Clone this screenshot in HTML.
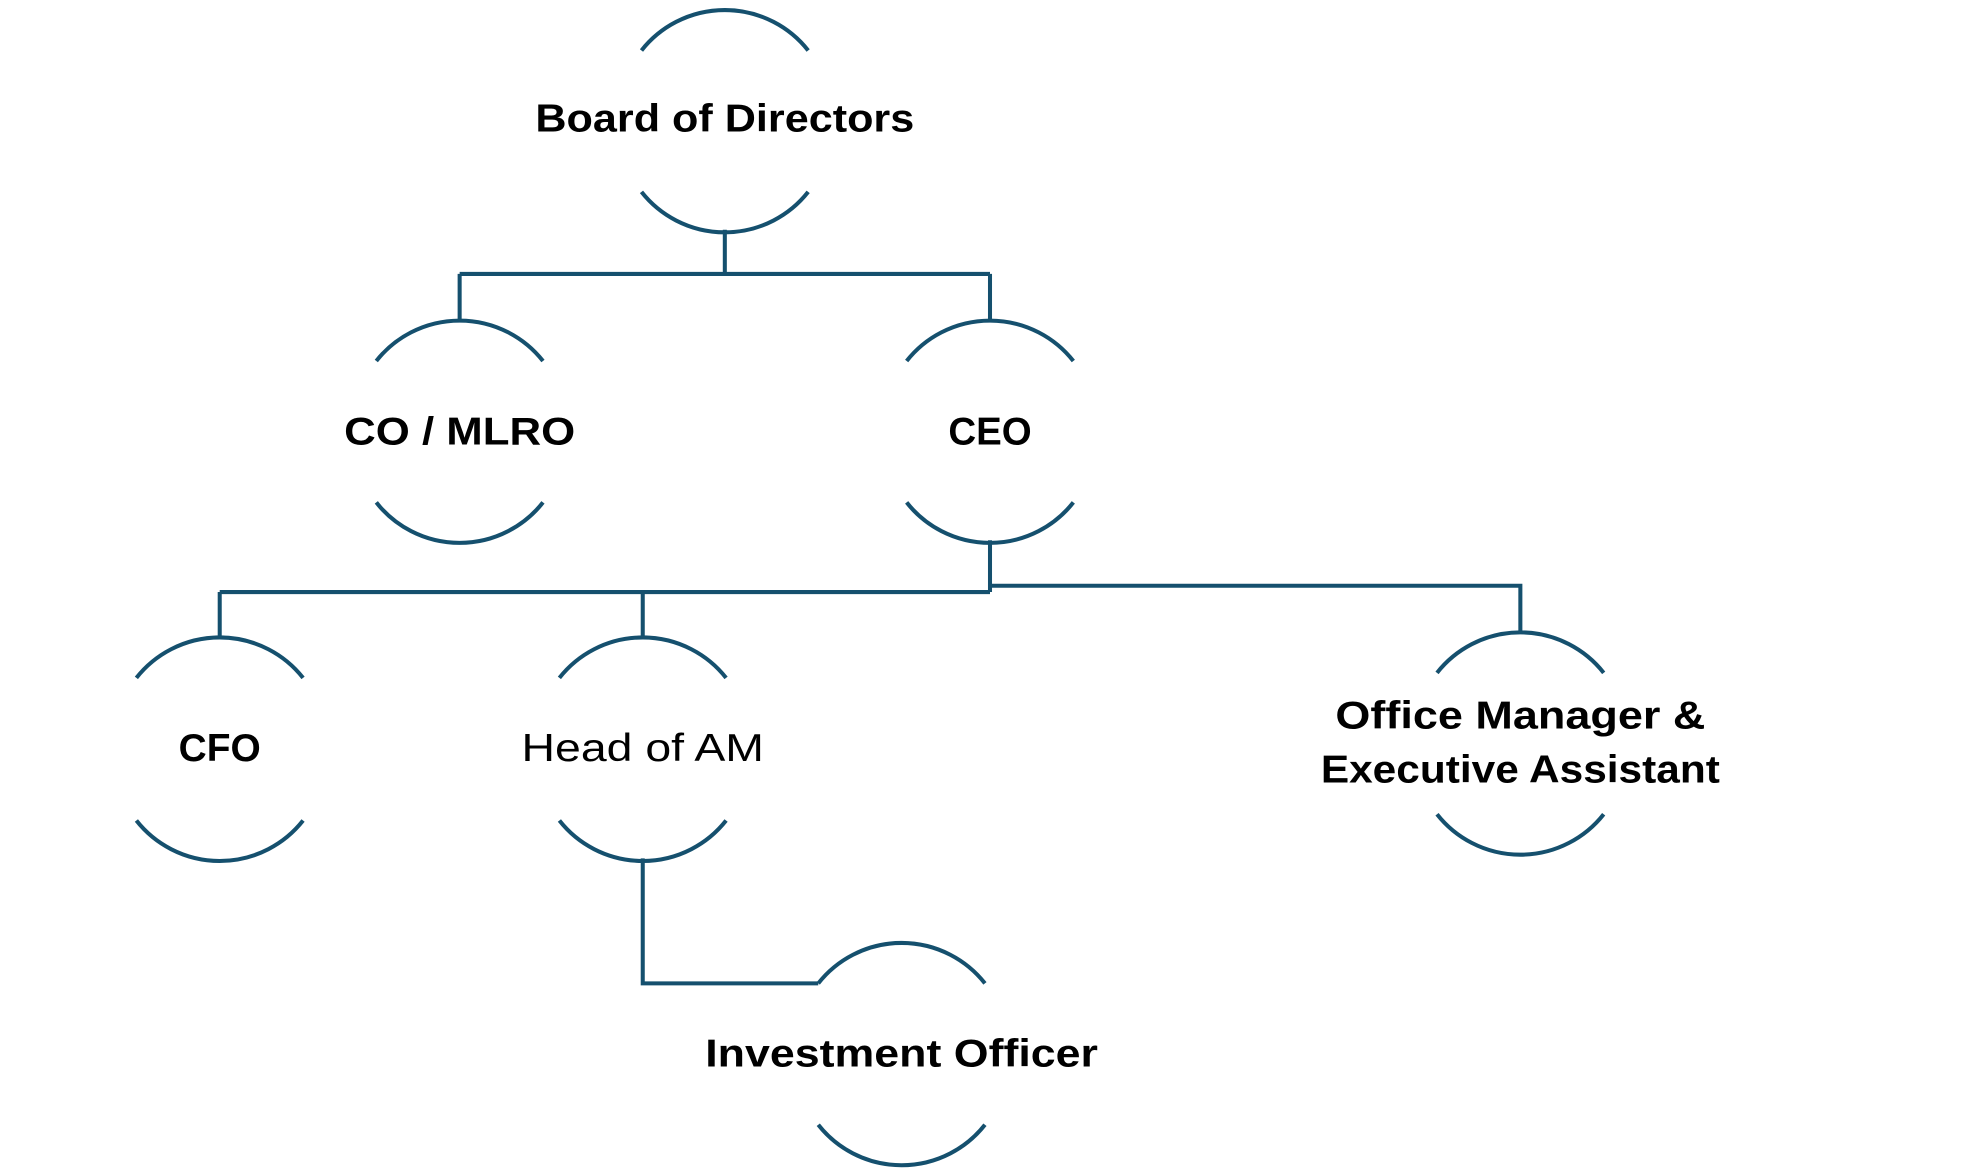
<!DOCTYPE html>
<html><head><meta charset="utf-8"><style>
html,body{margin:0;padding:0;background:#fff;}
svg{display:block;}
text{font-family:"Liberation Sans",sans-serif;font-size:31px;fill:#000;text-anchor:middle;}
.b{font-weight:bold;}
</style></head><body>
<svg width="1980" height="1174" viewBox="0 0 1568 930" preserveAspectRatio="none" xmlns="http://www.w3.org/2000/svg">
<g fill="none" stroke="#15506e" stroke-width="3.2">
<path d="M574 182 V217 M364 217 H784 M364 217 V255 M784 217 V255"/>
<path d="M784 428 V469 M174 469 H784 M174 469 V506 M509 469 V506"/>
<path d="M784 464 H1204 V502"/>
<path d="M509 680 V779 H648"/>
<path d="M508 40 A84 84 0 0 1 640 40 M508 152 A84 84 0 0 0 640 152"/>
<path d="M298 286 A84 84 0 0 1 430 286 M298 398 A84 84 0 0 0 430 398"/>
<path d="M718 286 A84 84 0 0 1 850 286 M718 398 A84 84 0 0 0 850 398"/>
<path d="M108 537 A84 84 0 0 1 240 537 M108 650 A84 84 0 0 0 240 650"/>
<path d="M443 537 A84 84 0 0 1 575 537 M443 650 A84 84 0 0 0 575 650"/>
<path d="M1138 533 A84 84 0 0 1 1270 533 M1138 645 A84 84 0 0 0 1270 645"/>
<path d="M648 779 A84 84 0 0 1 780 779 M648 891 A84 84 0 0 0 780 891"/>
</g>
<text class="b" x="574" y="104" textLength="300" lengthAdjust="spacingAndGlyphs">Board of Directors</text>
<text class="b" x="364" y="352" textLength="183" lengthAdjust="spacingAndGlyphs">CO / MLRO</text>
<text class="b" x="784" y="352" textLength="66" lengthAdjust="spacingAndGlyphs">CEO</text>
<text class="b" x="174" y="603" textLength="65" lengthAdjust="spacingAndGlyphs">CFO</text>
<text x="509" y="603" textLength="192" lengthAdjust="spacingAndGlyphs">Head of AM</text>
<text class="b" x="1204" y="577" textLength="293" lengthAdjust="spacingAndGlyphs">Office Manager &amp;</text>
<text class="b" x="1204" y="620" textLength="316" lengthAdjust="spacingAndGlyphs">Executive Assistant</text>
<text class="b" x="714" y="845" textLength="311" lengthAdjust="spacingAndGlyphs">Investment Officer</text>
</svg>
</body></html>
